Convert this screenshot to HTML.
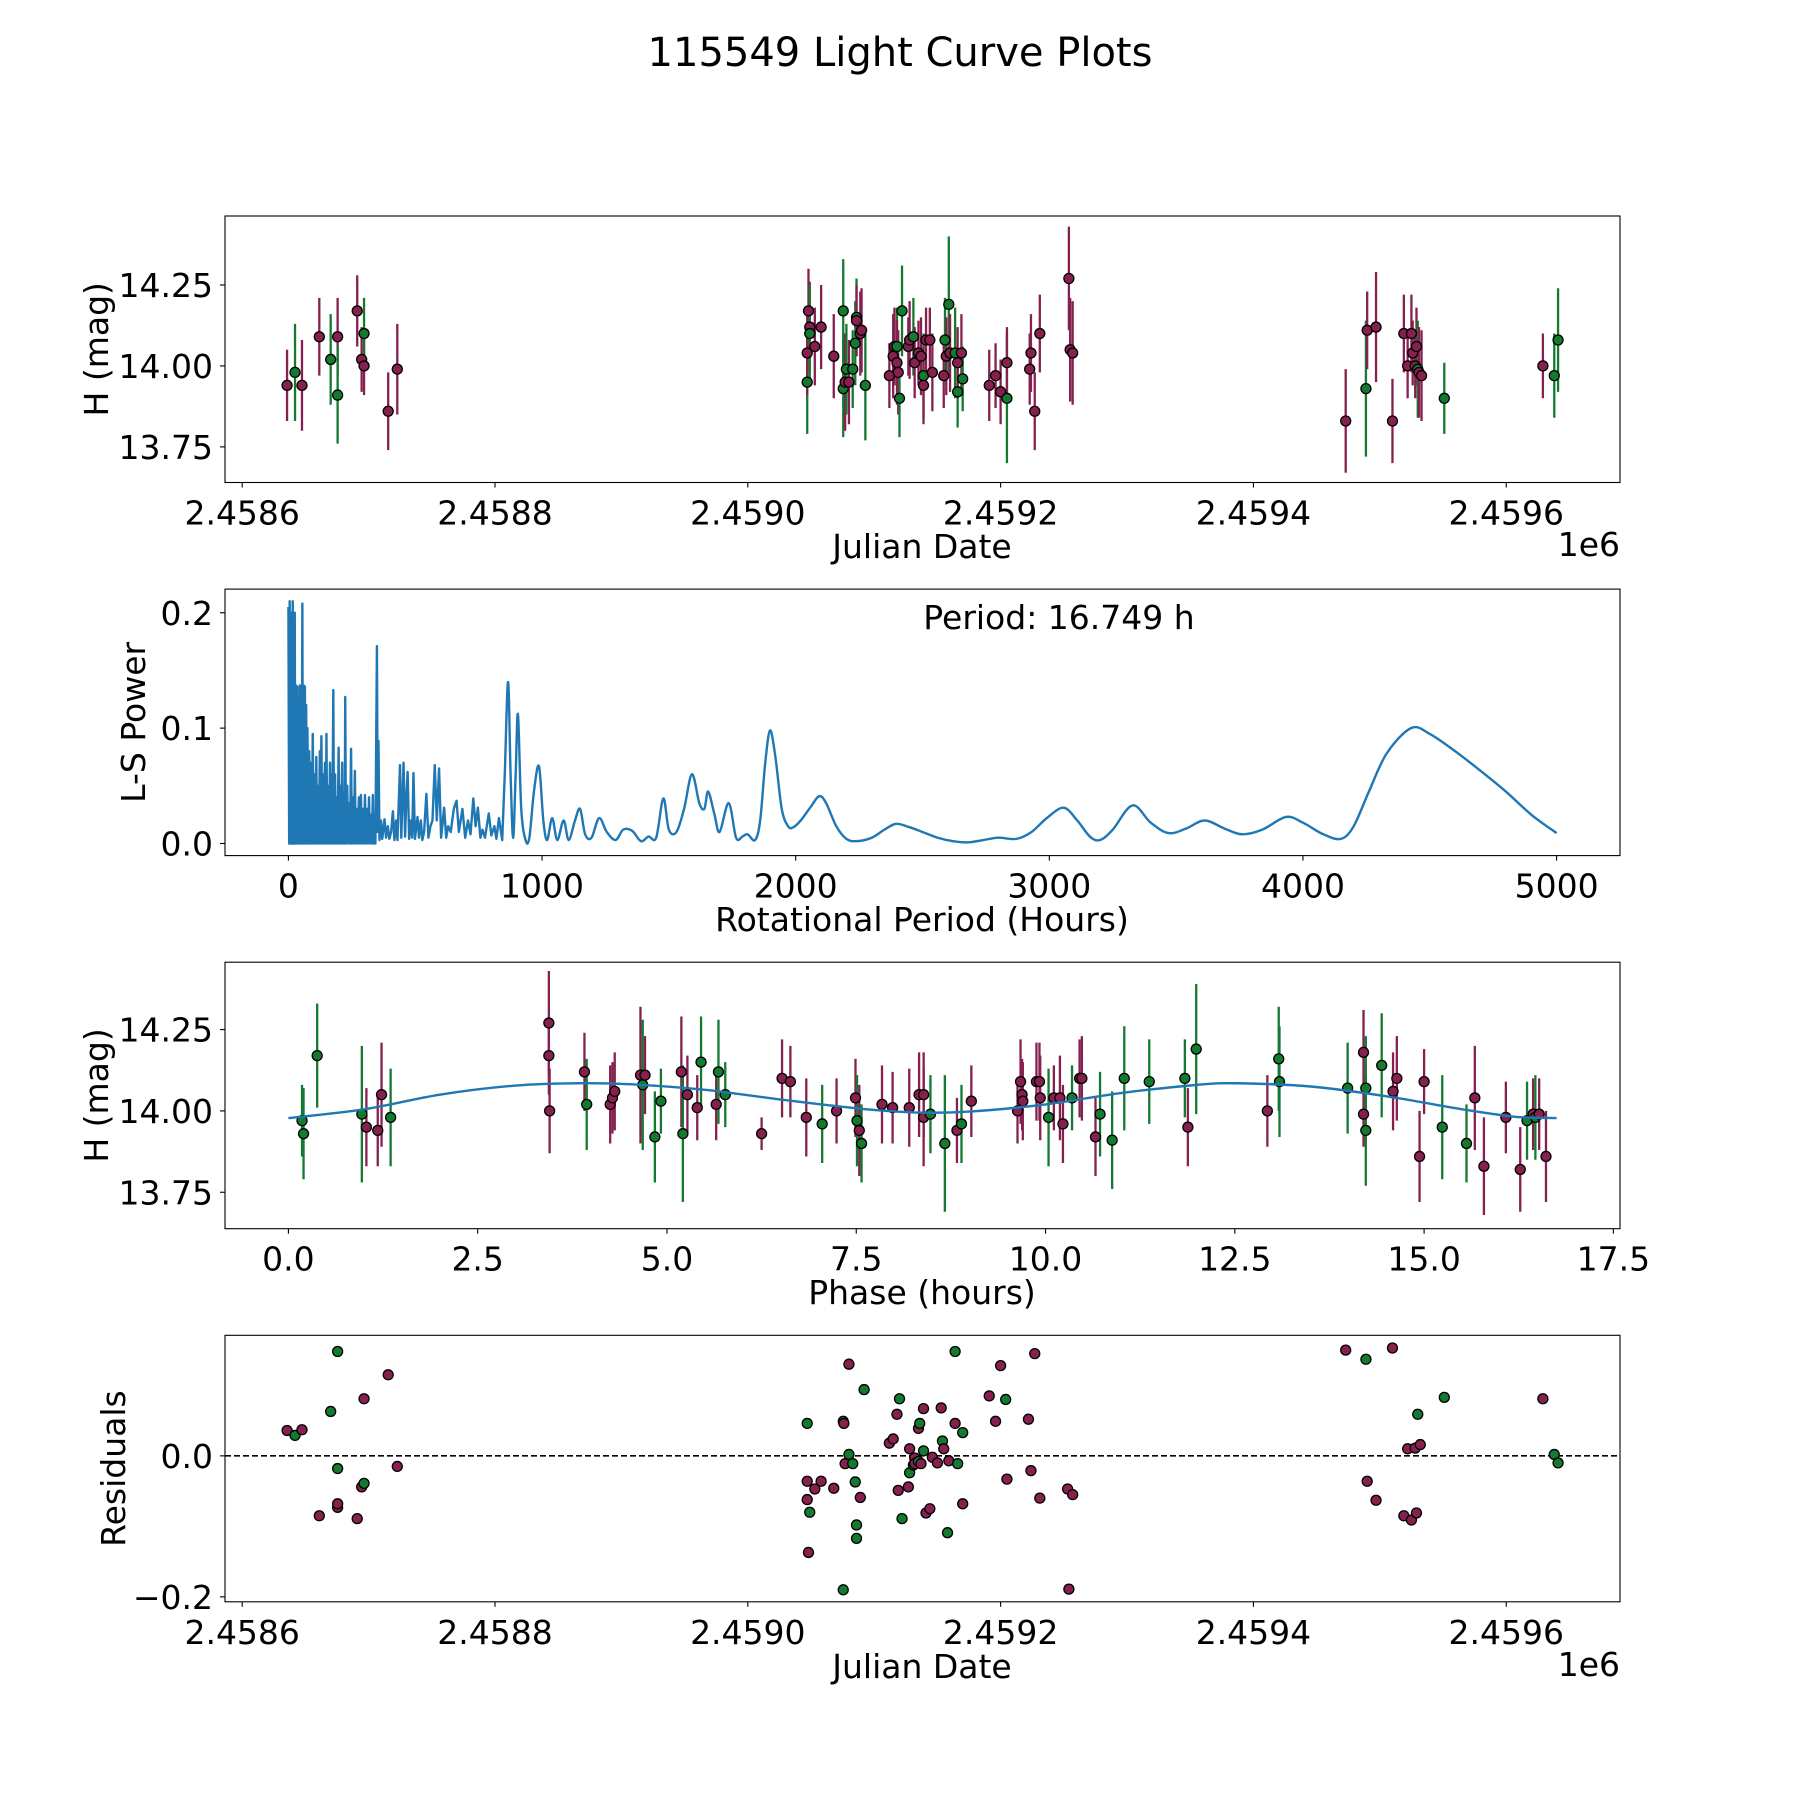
<!DOCTYPE html>
<html><head><meta charset="utf-8"><style>
html,body{margin:0;padding:0;background:#fff;}
svg{display:block;font-family:"DejaVu Sans","Liberation Sans",sans-serif;}
</style></head><body>
<svg id="fig" width="1800" height="1800" viewBox="0 0 1800 1800" xmlns="http://www.w3.org/2000/svg">
<rect width="1800" height="1800" fill="#fff"/>
<text x="900" y="66" text-anchor="middle" font-size="40">115549 Light Curve Plots</text>
</svg>
<script>
// ---------- data: light curve (days since JD 2458600) ----------
const lcDays = [35.5,41.8,47.3,61,70,75.5,75.5,91,94.5,96.4,96.4,115.5,122.7,447,447,448,449,449,453,458,468,475.5,475.5,477,478,480,483,485,486,486,489,490,493,512,515,516,518,518,519,520,522,527,528,531,532,535,537,539,539,541,544,546,555,556,557,559,560,564,566,566,569,570,591,596,600,605,605,623,624,627,631,654,655,657,873,889,890,897,910,919,922,925,926,928,929,930,931,933,951,1029,1038,1041];
const lcMag = [13.94,13.98,13.94,14.09,14.02,14.09,13.91,14.17,14.02,14.00,14.10,13.86,13.99,13.95,14.04,14.17,14.12,14.10,14.06,14.12,14.03,14.17,13.93,13.95,13.99,13.95,13.99,14.07,14.15,14.14,14.10,14.11,13.94,13.97,14.03,14.06,14.06,14.01,13.98,13.90,14.17,14.06,14.08,14.09,14.01,14.04,14.03,13.97,13.94,14.08,14.08,13.98,13.97,14.08,14.03,14.19,14.04,14.04,13.92,14.01,14.04,13.96,13.94,13.97,13.92,13.90,14.01,13.99,14.04,13.86,14.10,14.27,14.05,14.04,13.83,13.93,14.11,14.12,13.83,14.10,14.00,14.10,14.04,14.00,14.06,13.99,13.98,13.97,13.90,14.00,13.97,14.08];
const lcErr = [0.11,0.15,0.14,0.12,0.14,0.12,0.15,0.11,0.10,0.09,0.11,0.12,0.14,0.16,0.13,0.13,0.14,0.15,0.12,0.13,0.13,0.16,0.15,0.15,0.14,0.13,0.12,0.13,0.12,0.11,0.13,0.13,0.17,0.10,0.13,0.12,0.12,0.13,0.13,0.12,0.14,0.09,0.12,0.12,0.11,0.10,0.12,0.13,0.12,0.10,0.10,0.12,0.10,0.13,0.12,0.21,0.12,0.14,0.11,0.11,0.12,0.10,0.11,0.10,0.10,0.20,0.11,0.11,0.12,0.12,0.12,0.16,0.16,0.16,0.16,0.21,0.12,0.17,0.13,0.12,0.10,0.12,0.10,0.10,0.12,0.15,0.14,0.14,0.11,0.10,0.13,0.16];
const lcGroup = ['P','G','P','P','G','P','G','P','P','P','G','P','P','G','P','P','P','G','P','P','P','G','G','P','G','P','G','G','G','P','P','P','G','P','P','P','G','P','P','G','G','P','P','G','P','P','P','G','P','P','P','P','P','G','P','G','P','G','G','P','P','G','P','P','P','G','P','P','P','P','P','P','P','P','P','G','P','P','P','P','P','P','P','P','P','G','P','P','G','P','G','G'];
// ---------- data: periodogram ----------
const lsPeriod = [0,3,5,7,9,11,13,15,17,19,21,23,25,27,30,32,35,37,40,42,45,47,50,52,55,57,60,62,65,67,70,72,75,78,82,85,89,92,96,99,103,106,110,113,117,120,124,127,130,133,137,140,144,147,150,153,157,160,164,167,170,173,177,180,184,187,191,194,198,201,205,208,212,215,219,222,224,227,232,235,240,243,247,250,255,258,262,265,270,273,278,281,286,289,294,297,302,305,310,313,318,321,326,329,333,336,340,343,349,352,355,359,365,370,379,385,392,398,405,412,418,425,430,440,445,454,460,465,470,476,483,488,493,499,509,515,522,528,535,544,552,560,568,577,585,594,602,614,622,630,640,652,663,672,686,697,708,718,729,738,747,757,765,775,790,800,812,820,830,843,853,866,876,886,896,905,918,935,950,968,988,1005,1020,1040,1060,1085,1105,1130,1150,1170,1195,1225,1255,1290,1320,1355,1390,1420,1450,1478,1500,1530,1560,1591,1620,1640,1655,1680,1700,1736,1765,1790,1810,1840,1860,1880,1899,1920,1945,1970,1990,2020,2060,2093,2120,2160,2200,2240,2300,2350,2396,2450,2500,2560,2620,2680,2740,2800,2870,2930,2990,3056,3110,3160,3200,3250,3328,3400,3470,3540,3612,3690,3760,3840,3933,4000,4080,4150,4200,4260,4330,4426,4500,4600,4700,4800,4900,5000];
const lsPower = [0.205,0,0.21,0,0.2,0,0.138,0,0.21,0,0.135,0,0.2,0,0.137,0,0.136,0,0.12,0,0.137,0,0.13,0,0.208,0,0.137,0,0.136,0,0.12,0,0.1,0,0.08,0,0.07,0,0.095,0,0.06,0,0.075,0,0.05,0,0.08,0,0.093,0,0.06,0,0.07,0,0.095,0,0.05,0,0.07,0,0.06,0,0.133,0,0.06,0,0.04,0,0.083,0,0.05,0,0.07,0,0.04,0,0.127,0,0.05,0,0.035,0,0.082,0,0.04,0,0.063,0,0.03,0,0.04,0,0.042,0,0.03,0,0.042,0,0.03,0,0.04,0,0.025,0,0.042,0,0.02,0,0.171,0.01,0.089,0.003,0.02,0.004,0.021,0.005,0.015,0.004,0.01,0.028,0.003,0.02,0.003,0.068,0.005,0.07,0.006,0.04,0.062,0.004,0.02,0.005,0.061,0.004,0.023,0.005,0.02,0.003,0.01,0.043,0.005,0.015,0.02,0.068,0.02,0.065,0.005,0.031,0.005,0.015,0.01,0.03,0.037,0.01,0.03,0.005,0.02,0.008,0.039,0.015,0.031,0.005,0.012,0.005,0.026,0.007,0.015,0.004,0.022,0.003,0.06,0.140,0.06,0.005,0.06,0.112,0.03,0.003,0.005,0.045,0.067,0.02,0.003,0.022,0.003,0.02,0.003,0.02,0.03,0.008,0.005,0.022,0.01,0.003,0.012,0.011,0.002,0.006,0.005,0.039,0.012,0.01,0.03,0.060,0.035,0.03,0.045,0.025,0.01,0.035,0.005,0.006,0.008,0.003,0.02,0.07,0.098,0.075,0.03,0.015,0.014,0.02,0.032,0.041,0.035,0.015,0.004,0.002,0.005,0.012,0.017,0.014,0.01,0.005,0.002,0.001,0.003,0.005,0.004,0.01,0.022,0.031,0.02,0.006,0.003,0.012,0.033,0.018,0.009,0.013,0.02,0.013,0.008,0.012,0.023,0.018,0.008,0.004,0.015,0.045,0.078,0.1,0.095,0.08,0.063,0.045,0.025,0.009];
const periodText = "Period: 16.749 h";
// ---------- data: phase-folded ----------
const phHours = [0.18,0.20,0.38,0.97,1.03,1.18,1.23,1.35,3.44,3.44,3.45,3.91,3.94,4.25,4.28,4.31,4.65,4.68,4.71,4.84,4.92,5.19,5.21,5.27,5.40,5.45,5.65,5.68,5.77,6.25,6.52,6.63,6.84,7.05,7.24,7.49,7.51,7.54,7.57,7.84,7.98,8.20,8.33,8.39,8.48,8.39,8.67,8.83,8.89,9.02,9.63,9.67,9.69,9.70,9.88,9.92,9.93,10.04,10.11,10.19,10.35,10.23,10.45,10.48,10.66,10.72,10.88,11.04,11.37,11.84,11.88,11.99,12.93,13.08,13.09,13.99,14.20,14.20,14.23,14.23,14.44,14.59,14.64,14.94,15.00,15.24,15.56,15.67,15.79,16.08,16.27,16.36,16.44,16.47,16.52,16.61];
const phMag = [13.97,13.93,14.17,13.99,13.95,13.94,14.05,13.98,14.27,14.17,14.00,14.12,14.02,14.02,14.04,14.06,14.11,14.08,14.11,13.92,14.03,14.12,13.93,14.05,14.01,14.15,14.02,14.12,14.05,13.93,14.10,14.09,13.98,13.96,14.00,14.04,13.97,13.94,13.90,14.02,14.01,14.01,14.05,13.98,13.99,14.05,13.90,13.94,13.96,14.03,14.00,14.09,14.05,14.03,14.09,14.09,14.04,13.98,14.04,14.04,14.04,13.96,14.10,14.10,13.92,13.99,13.91,14.10,14.09,14.10,13.95,14.19,14.00,14.16,14.09,14.07,14.18,13.99,14.07,13.94,14.14,14.06,14.10,13.86,14.09,13.95,13.90,14.04,13.83,13.98,13.82,13.97,13.99,13.98,13.99,13.86];
const phErr = [0.11,0.14,0.16,0.21,0.12,0.11,0.16,0.15,0.16,0.12,0.13,0.12,0.14,0.12,0.11,0.12,0.21,0.20,0.12,0.14,0.10,0.17,0.21,0.12,0.10,0.14,0.11,0.16,0.10,0.05,0.12,0.11,0.12,0.12,0.10,0.12,0.14,0.14,0.12,0.12,0.11,0.12,0.13,0.15,0.12,0.13,0.21,0.10,0.12,0.11,0.10,0.13,0.11,0.12,0.12,0.12,0.13,0.15,0.10,0.13,0.10,0.12,0.12,0.13,0.12,0.13,0.15,0.16,0.13,0.12,0.12,0.20,0.11,0.16,0.17,0.14,0.13,0.10,0.16,0.17,0.16,0.12,0.13,0.14,0.10,0.16,0.12,0.16,0.15,0.11,0.13,0.12,0.11,0.13,0.11,0.14];
const phGroup = ['G','G','G','G','P','P','P','G','P','P','P','P','G','P','P','P','P','G','P','G','G','P','G','P','P','G','P','G','G','P','P','P','P','G','P','P','G','P','G','P','P','P','P','P','G','P','G','P','G','P','P','P','P','P','P','P','P','G','P','P','G','P','P','P','P','G','G','G','G','G','P','G','P','G','G','G','P','P','G','G','G','P','P','P','P','G','G','P','P','P','P','G','P','G','P','P'];
const modelPhase = [0,1,2,3,3.8,4.5,5.5,6.5,7.5,8.3,9,10,11,12,12.5,13.5,14.5,15.5,16.2,16.75];
const modelMag = [13.978,14.005,14.05,14.078,14.085,14.082,14.065,14.035,14.008,13.995,13.998,14.02,14.055,14.08,14.085,14.075,14.045,14.005,13.982,13.978];
// ---------- data: residuals ----------
const resDays = [35.5,41.8,47.3,61,70,75.5,75.5,75.5,75.5,91,94.5,96.4,96.4,115.5,122.7,447,447,447,448,449,453,458,468,475.5,476,475.5,477,480,480,483,485,486,486,489,492,512,515,518,519,520,522,527,528,528,531,532,532,535,535,536,537,539,539,541,544,546,550,553,554,555,558,559,564,564,566,570,570,591,596,600,604,605,622,624,627,631,653,654,657,873,889,890,897,910,919,922,925,928,929,930,932,951,1029,1038,1041];
const resVal = [0.036,0.029,0.037,-0.085,0.063,-0.018,-0.073,-0.068,0.148,-0.089,-0.044,-0.039,0.081,0.115,-0.015,0.046,-0.062,-0.036,-0.137,-0.080,-0.047,-0.036,-0.046,0.049,0.046,-0.190,-0.011,0.002,0.130,-0.011,-0.037,-0.117,-0.098,-0.059,0.094,0.018,0.024,0.059,-0.049,0.081,-0.089,-0.044,0.010,-0.024,-0.013,-0.003,-0.011,-0.008,0.039,0.046,-0.011,0.007,0.067,-0.081,-0.075,-0.002,-0.010,0.068,0.021,0.010,-0.109,-0.007,0.148,0.046,-0.011,0.033,-0.068,0.085,0.049,0.128,0.080,-0.033,0.052,-0.021,0.145,-0.060,-0.047,-0.189,-0.055,0.150,0.137,-0.036,-0.063,0.153,-0.085,0.010,-0.091,0.011,-0.081,0.059,0.016,0.083,0.081,0.002,-0.010];
const resGroup = ['P','G','P','P','G','G','P','P','G','P','P','G','P','P','P','G','P','P','P','G','P','P','P','G','P','G','P','G','P','G','G','G','G','P','G','P','P','P','P','G','G','P','P','G','G','P','P','G','P','G','P','G','P','P','P','P','P','P','G','P','G','P','G','P','G','G','P','P','P','P','G','P','P','P','P','P','P','P','P','P','G','P','P','P','P','P','P','P','P','G','P','G','P','G','G'];
const xTickDays = [0,200,400,600,800,1000];
const xTickJD = ["2.4586","2.4588","2.4590","2.4592","2.4594","2.4596"];
const magTicks = [13.75,14.00,14.25];
const magTickLabels = ["13.75","14.00","14.25"];
const lsXTicks = [0,1000,2000,3000,4000,5000];
const lsYTicks = [0.0,0.1,0.2];
const lsYTickLabels = ["0.0","0.1","0.2"];
const phXTicks = [0,2.5,5,7.5,10,12.5,15,17.5];
const phXTickLabels = ["0.0","2.5","5.0","7.5","10.0","12.5","15.0","17.5"];
const resYTicks = [-0.2,0.0];
const resYTickLabels = ["\u22120.2","0.0"];

const NS = "http://www.w3.org/2000/svg";
const svg = document.getElementById('fig');
const COL = {P:'#85204f', G:'#137a30'};
const FS = 33;
function mk(tag, attrs, parent){ const e=document.createElementNS(NS,tag); for(const k in attrs) e.setAttribute(k,attrs[k]); (parent||svg).appendChild(e); return e; }
function lin(d0,d1,r0,r1){ return v => r0 + (v-d0)/(d1-d0)*(r1-r0); }
// path builder: straight segments before index `smoothFrom`, Catmull-Rom after
function buildPath(pts, smoothFrom){
  let d='M'+pts[0][0].toFixed(2)+' '+pts[0][1].toFixed(2);
  for(let i=1;i<pts.length;i++){
    const p1=pts[i-1], p2=pts[i];
    if(i-1<smoothFrom){ d+='L'+p2[0].toFixed(2)+' '+p2[1].toFixed(2); continue; }
    const p0=pts[i-2]||p1, p3=pts[i+1]||p2;
    const c1x=p1[0]+(p2[0]-p0[0])/6, c1y=p1[1]+(p2[1]-p0[1])/6;
    const c2x=p2[0]-(p3[0]-p1[0])/6, c2y=p2[1]-(p3[1]-p1[1])/6;
    d+='C'+c1x.toFixed(2)+' '+c1y.toFixed(2)+' '+c2x.toFixed(2)+' '+c2y.toFixed(2)+' '+p2[0].toFixed(2)+' '+p2[1].toFixed(2);
  }
  return d;
}

const L=225, R=1620;
const axesTop=[216,589.1,962.2,1335.3], AH=266.5;

function frame(name){
  const g=mk('g',{});
  
  
  return g;
}
function spines(g,top){
  const r=mk('rect',{x:L,y:top,width:R-L,height:AH,fill:'none',stroke:'#000','stroke-width':1.1},g);
  
  
}
function xTicks(g,top,ticks,labels,sx,name){
  const b=top+AH;
  ticks.forEach((t,k)=>{
    const x=sx(t);
    mk('line',{x1:x,y1:b,x2:x,y2:b+5,stroke:'#000','stroke-width':1.1},g);
    const tx=mk('text',{x:x,y:b+42,'text-anchor':'middle','font-size':FS},g);
    tx.textContent=labels[k];
    
    
  });
}
function yTicks(g,top,ticks,labels,sy,name){
  ticks.forEach((t,k)=>{
    const y=sy(t);
    mk('line',{x1:L-5,y1:y,x2:L,y2:y,stroke:'#000','stroke-width':1.1},g);
    const tx=mk('text',{x:L-12,y:y+12,'text-anchor':'end','font-size':FS},g);
    tx.textContent=labels[k];
    
    
  });
}
function label(g,x,y,txt,rot,name,anchor){
  const t=mk('text',{x:x,y:y,'text-anchor':anchor||'middle','font-size':FS},g);
  if(rot) t.setAttribute('transform','rotate(-90 '+x+' '+y+')');
  t.textContent=txt;
  
  
}
function errPoints(g,xs,ys,es,grp,sx,sy){
  xs.forEach((v,k)=>{
    const x=sx(v);
    const l=mk('line',{x1:x,y1:sy(ys[k]-es[k]),x2:x,y2:sy(ys[k]+es[k]),stroke:COL[grp[k]],'stroke-width':2.3},g);
    
    
  });
  xs.forEach((v,k)=>{
    const c=mk('circle',{cx:sx(v),cy:sy(ys[k]),r:5,fill:COL[grp[k]],stroke:'#000','stroke-width':1.3},g);
    
    
  });
}

// Panel 1
(function(){
  const top=axesTop[0];
  const sx=lin(-13.6,1090,L,R), sy=lin(13.64,14.463,top+AH,top);
  const g=frame('light-curve-panel');
  errPoints(g,lcDays,lcMag,lcErr,lcGroup,sx,sy);
  spines(g,top);
  xTicks(g,top,xTickDays,xTickJD,sx,'x-axis');
  yTicks(g,top,magTicks,magTickLabels,sy,'y-axis');
  label(g,922,558,'Julian Date',false,'x-axis-title');
  label(g,R,556,'1e6',false,'x-axis-offset','end');
  label(g,108,top+AH/2,'H (mag)',true,'y-axis-title');
})();

// Panel 2
(function(){
  const top=axesTop[1];
  const sx=lin(-250,5250,L,R), sy=lin(-0.0105,0.2205,top+AH,top);
  const g=frame('periodogram-panel');
  const pts=lsPeriod.map((p,k)=>[sx(p),sy(lsPower[k])]);
  let smoothFrom=lsPeriod.findIndex(p=>p>=850);
  const path=mk('path',{d:buildPath(pts,smoothFrom),fill:'none',stroke:'#1f77b4','stroke-width':2.4,'stroke-linejoin':'round'},g);
  
  
  spines(g,top);
  xTicks(g,top,lsXTicks,lsXTicks.map(String),sx,'x-axis');
  yTicks(g,top,lsYTicks,lsYTickLabels,sy,'y-axis');
  label(g,922,931,'Rotational Period (Hours)',false,'x-axis-title');
  label(g,145,top+AH/2,'L-S Power',true,'y-axis-title');
  label(g,1059,629,periodText,false,'period-annotation');
})();

// Panel 3
(function(){
  const top=axesTop[2];
  const sx=lin(-0.8375,17.5875,L,R), sy=lin(13.638,14.457,top+AH,top);
  const g=frame('phase-panel');
  errPoints(g,phHours,phMag,phErr,phGroup,sx,sy);
  const pts=modelPhase.map((p,k)=>[sx(p),sy(modelMag[k])]);
  const path=mk('path',{d:buildPath(pts,0),fill:'none',stroke:'#1f77b4','stroke-width':2.4,'stroke-linejoin':'round'},g);
  
  
  spines(g,top);
  xTicks(g,top,phXTicks,phXTickLabels,sx,'x-axis');
  yTicks(g,top,magTicks,magTickLabels,sy,'y-axis');
  label(g,922,1304,'Phase (hours)',false,'x-axis-title');
  label(g,108,top+AH/2,'H (mag)',true,'y-axis-title');
})();

// Panel 4
(function(){
  const top=axesTop[3];
  const sx=lin(-13.6,1090,L,R), sy=lin(-0.207,0.171,top+AH,top);
  const g=frame('residuals-panel');
  const zl=mk('line',{x1:L,y1:sy(0),x2:R,y2:sy(0),stroke:'#000','stroke-width':1.6,'stroke-dasharray':'6,3'},g);
  
  
  resDays.forEach((v,k)=>{
    const c=mk('circle',{cx:sx(v),cy:sy(resVal[k]),r:5,fill:COL[resGroup[k]],stroke:'#000','stroke-width':1.3},g);
    
    
  });
  spines(g,top);
  xTicks(g,top,xTickDays,xTickJD,sx,'x-axis');
  yTicks(g,top,resYTicks,resYTickLabels,sy,'y-axis');
  label(g,922,1678,'Julian Date',false,'x-axis-title');
  label(g,R,1676,'1e6',false,'x-axis-offset','end');
  label(g,125,top+AH/2,'Residuals',true,'y-axis-title');
})();
</script>
</body></html>
